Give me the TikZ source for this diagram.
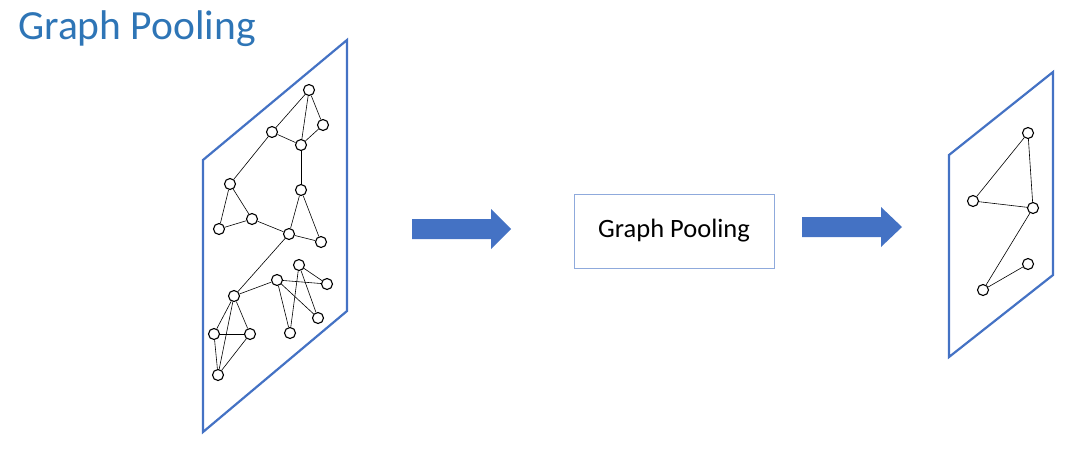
\documentclass[tikz,border=0pt]{standalone}
\usepackage{fontspec}
\setmainfont{Carlito}
\usepackage{tikz}
\definecolor{panelblue}{HTML}{4472C4}
\definecolor{titleblue}{HTML}{2E75B6}
\definecolor{boxblue}{HTML}{8FAADC}
\tikzset{
	vertex/.style={circle, draw=black, fill=white, line width=1.1pt, inner sep=0pt, minimum size=11pt},
	edge/.style={line width=0.6pt},
	panel/.style={draw=panelblue, line width=2.2pt, line join=miter},
	blockarrow/.style={fill=panelblue}
}

\begin{document}
\begin{tikzpicture}[x=1pt, y=-1pt]
	\useasboundingbox (0,0) rectangle (1083,448);
	%titre
	\node[anchor=west, text=titleblue, font=\fontsize{41.5}{48}\selectfont, inner sep=0pt] (titre) at (18,29) {Graph Pooling};
	%les plans
	\draw[panel] (203,160) -- (347,40) -- (347,311) -- (203,432) -- cycle;
	\draw[panel] (949,155) -- (1053,72) -- (1053,275) -- (949,357) -- cycle;
	%les fleches
	\fill[blockarrow] (412,219) -- (491,219) -- (491,209) -- (511,229) -- (491,249) -- (491,239) -- (412,239) -- cycle;
	\fill[blockarrow] (802,217) -- (881,217) -- (881,207) -- (902,227) -- (881,247) -- (881,237) -- (802,237) -- cycle;
	%la boite
	\node[draw=boxblue, line width=1pt, minimum width=200pt, minimum height=74pt, font=\fontsize{26.5}{30}\selectfont] (pool) at (674,231) {Graph Pooling};
	%les sommets du grand graphe
	\node[vertex] (a) at (309,90) {};
	\node[vertex] (b) at (323,125) {};
	\node[vertex] (c) at (272,132) {};
	\node[vertex] (d) at (301,145) {};
	\node[vertex] (e) at (230,184) {};
	\node[vertex] (f) at (301,190) {};
	\node[vertex] (g) at (252,219) {};
	\node[vertex] (h) at (219,229) {};
	\node[vertex] (i) at (289,234) {};
	\node[vertex] (j) at (321,242) {};
	\node[vertex] (k) at (234,296) {};
	\node[vertex] (l) at (277,280) {};
	\node[vertex] (m) at (299,265) {};
	\node[vertex] (n) at (327,284) {};
	\node[vertex] (o) at (318,318) {};
	\node[vertex] (p) at (290,333) {};
	\node[vertex] (q) at (214,334) {};
	\node[vertex] (r) at (250,334) {};
	\node[vertex] (s) at (218,375) {};
	%les aretes du grand graphe
	\foreach \u/\v in {a/b, a/c, a/d, b/d, c/d, c/e, d/f, e/g, e/h, g/h, g/i, f/i, f/j, i/j, i/k,
		k/l, k/q, k/r, k/s, q/r, q/s, r/s, l/n, l/p, l/o, m/p, m/n, m/o}
		\draw[edge] (\u) -- (\v);
	%le graphe reduit
	\node[vertex] (ra) at (1028,133) {};
	\node[vertex] (rb) at (973,201) {};
	\node[vertex] (rc) at (1033,208) {};
	\node[vertex] (rd) at (1028,264) {};
	\node[vertex] (re) at (983,290) {};
	\foreach \u/\v in {ra/rb, ra/rc, rb/rc, rc/re, re/rd}
		\draw[edge] (\u) -- (\v);
\end{tikzpicture}
\end{document}
